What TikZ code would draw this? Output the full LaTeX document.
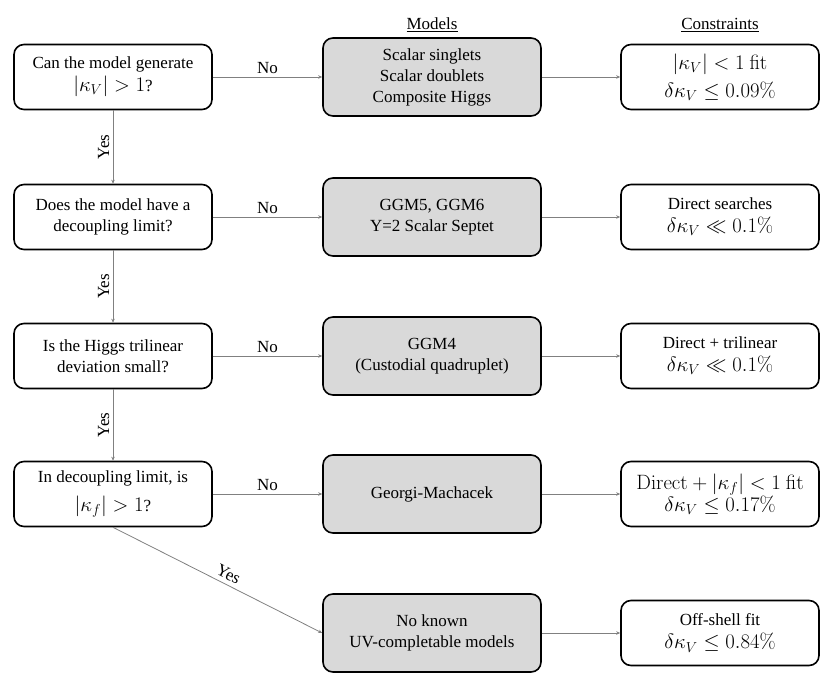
\documentclass[tikz,border=0pt]{standalone}
\usepackage[no-math]{fontspec}
\setmainfont{Liberation Serif}
\usetikzlibrary{arrows.meta}

% math set a little larger than the text
\newcommand{\mth}[1]{{\fontsize{20}{24}\selectfont$#1$}}

\begin{document}
\begin{tikzpicture}[x=1pt, y=-1pt,
    every node/.style={font=\fontsize{17}{21}\selectfont, align=center},
    query/.style={draw, line width=1.6pt, rounded corners=10pt, minimum width=198pt, minimum height=65pt, inner sep=0pt},
    model/.style={query, fill=black!15, minimum width=218pt, minimum height=78pt},
    bound/.style={query},
    link/.style={draw=gray, line width=0.8pt, -{Stealth[length=4pt, width=3.5pt]}}]
    \useasboundingbox (0,0) rectangle (830,695);

    % headers
    \node (mhead) at (432,25) {\underline{Models}};
    \node (chead) at (720,25) {\underline{Constraints}};

    % questions (left)
    \node[query] (q1) at (113,77) {Can the model generate\\[2pt] \mth{|\kappa_V| > 1}?};
    \node[query] (q2) at (113,217) {Does the model have a\\ decoupling limit?};
    \node[query] (q3) at (113,356) {Is the Higgs trilinear\\ deviation small?};
    \node[query] (q4) at (113,494) {In decoupling limit, is\\[8pt] \mth{|\kappa_f| > 1}?};

    % models (middle)
    \node[model] (m1) at (432,77) {Scalar singlets\\ Scalar doublets\\ Composite Higgs};
    \node[model] (m2) at (432,217) {GGM5, GGM6\\ Y=2 Scalar Septet};
    \node[model] (m3) at (432,356) {GGM4\\ (Custodial quadruplet)};
    \node[model] (m4) at (432,494) {Georgi-Machacek};
    \node[model] (m5) at (432,633) {No known\\ UV-completable models};

    % constraints (right)
    \node[bound] (c1) at (720,77) {\mth{|\kappa_V| < 1\ \mathrm{fit}}\\[7pt] \mth{\delta\kappa_V \le 0.09\%}};
    \node[bound] (c2) at (720,217) {Direct searches\\[2pt] \mth{\delta\kappa_V \ll 0.1\%}};
    \node[bound] (c3) at (720,356) {Direct + trilinear\\[2pt] \mth{\delta\kappa_V \ll 0.1\%}};
    \node[bound] (c4) at (720,494) {\mth{\mathrm{Direct} + |\kappa_f| < 1\ \mathrm{fit}}\\ \mth{\delta\kappa_V \le 0.17\%}};
    \node[bound] (c5) at (720,633) {Off-shell fit\\[2pt] \mth{\delta\kappa_V \le 0.84\%}};

    % yes: down the left column
    \draw[link] (q1) -- node[rotate=90, above] {Yes} (q2);
    \draw[link] (q2) -- node[rotate=90, above] {Yes} (q3);
    \draw[link] (q3) -- node[rotate=90, above] {Yes} (q4);
    \draw[link] (q4.south) -- node[sloped, above=1pt, pos=0.53] {Yes} (m5.west);

    % no: across to the models
    \draw[link] (q1) -- node[above] {No} (m1);
    \draw[link] (q2) -- node[above] {No} (m2);
    \draw[link] (q3) -- node[above] {No} (m3);
    \draw[link] (q4) -- node[above] {No} (m4);

    % models to constraints
    \draw[link] (m1) -- (c1);
    \draw[link] (m2) -- (c2);
    \draw[link] (m3) -- (c3);
    \draw[link] (m4) -- (c4);
    \draw[link] (m5) -- (c5);
\end{tikzpicture}
\end{document}
